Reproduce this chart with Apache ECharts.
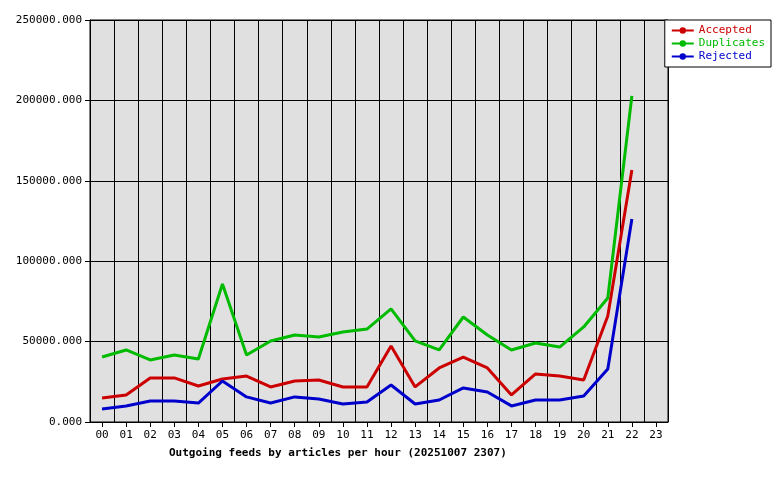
<!DOCTYPE html>
<html>
<head>
<meta charset="utf-8">
<script src="https://cdn.jsdelivr.net/npm/echarts@6/dist/echarts.min.js"></script>
<style>html,body{margin:0;background:#fff}#chart{width:780px;height:480px}</style>
</head>
<body>
<div id="chart"></div>
<script>
var hours = ['00','01','02','03','04','05','06','07','08','09','10','11','12','13','14','15','16','17','18','19','20','21','22','23'];
var accepted = [14900, 16800, 27400, 27400, 22400, 26700, 28600, 21800, 25500, 26100, 21800, 21800, 47300, 21800, 33600, 40400, 33600, 16800, 29900, 28600, 26100, 65900, 156700, null];
var duplicates = [40400, 44800, 38600, 41700, 39200, 85800, 41700, 50400, 54100, 52900, 56000, 57800, 70300, 50400, 44800, 65300, 54100, 44800, 49100, 46600, 59100, 77100, 202800, null];
var rejected = [8100, 10000, 13100, 13100, 11800, 25500, 15600, 11800, 15600, 14300, 11200, 12400, 23000, 11200, 13700, 21200, 18700, 10000, 13700, 13700, 16200, 33000, 126300, null];

var chart = echarts.init(document.getElementById('chart'));
var font = 'DejaVu Sans Mono';

function line(name, color, data) {
  return {
    name: name,
    type: 'line',
    data: data,
    symbol: 'none',
    lineStyle: { color: color, width: 3 },
    itemStyle: { color: color },
    animation: false
  };
}

chart.setOption({
  textStyle: { fontFamily: font },
  title: {
    text: 'Outgoing feeds by articles per hour (20251007 2307)',
    left: 164, top: 443,
    textStyle: { fontFamily: font, fontSize: 11, fontWeight: 'bold', color: '#000' }
  },
  legend: {
    orient: 'vertical',
    right: 9, top: 20,
    padding: [5, 6, 5, 6],
    itemGap: 2,
    itemWidth: 22, itemHeight: 8,
    borderColor: '#000', borderWidth: 1,
    backgroundColor: '#fff',
    data: [
      { name: 'Accepted', textStyle: { color: '#cc0000' } },
      { name: 'Duplicates', textStyle: { color: '#00bb00' } },
      { name: 'Rejected', textStyle: { color: '#0000cc' } }
    ],
    textStyle: { fontFamily: font, fontSize: 11 }
  },
  grid: { left: 90, right: 112, top: 20, bottom: 58, backgroundColor: '#e0e0e0', show: true, borderColor: '#000', borderWidth: 1 },
  xAxis: {
    type: 'category',
    data: hours,
    boundaryGap: true,
    axisLine: { lineStyle: { color: '#000' } },
    axisTick: { show: true, alignWithLabel: true, lineStyle: { color: '#000' } },
    axisLabel: { color: '#000', fontFamily: font, fontSize: 11 },
    splitLine: { show: true, lineStyle: { color: '#000', width: 1 } }
  },
  yAxis: {
    type: 'value',
    min: 0, max: 250000, interval: 50000,
    axisLine: { show: true, lineStyle: { color: '#000' } },
    axisTick: { show: true, lineStyle: { color: '#000' } },
    axisLabel: { color: '#000', fontFamily: font, fontSize: 11, formatter: function (v) { return v + '.000'; } },
    splitLine: { show: true, lineStyle: { color: '#000', width: 1 } }
  },
  series: [
    line('Accepted', '#cc0000', accepted),
    line('Duplicates', '#00bb00', duplicates),
    line('Rejected', '#0000cc', rejected)
  ]
});
</script>
</body>
</html>
